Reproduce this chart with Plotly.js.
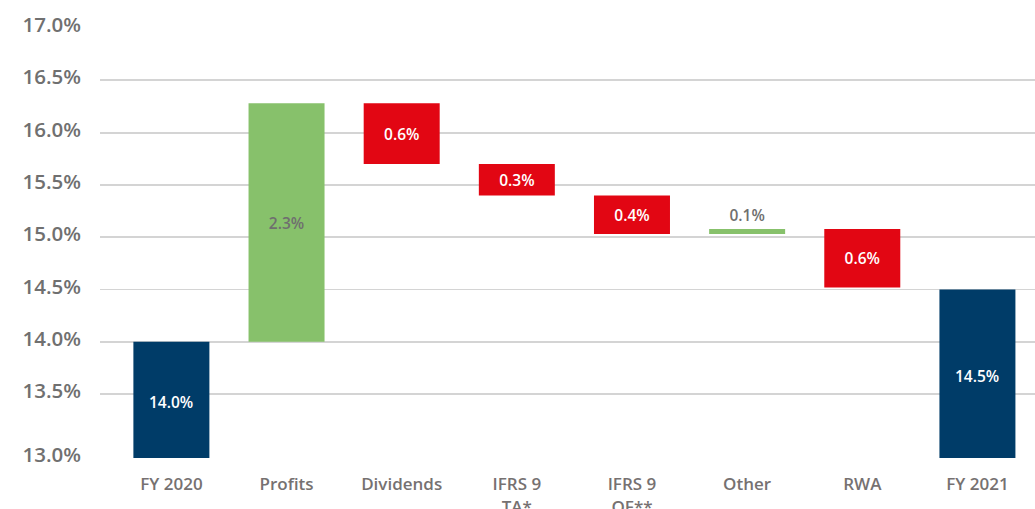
<!DOCTYPE html>
<html>
<head>
<meta charset="utf-8">
<script src="https://cdn.plot.ly/plotly-3.0.1.min.js"></script>
<style>html,body{margin:0;padding:0;background:#fff;}#chart{width:1035px;height:509px;}</style>
</head>
<body>
<div id="chart"></div>
<script>
// Data
const categories = ["FY 2020", "Profits", "Dividends", "IFRS 9<br>TA*", "IFRS 9<br>QF**", "Other", "RWA", "FY 2021"];
const measures = ["absolute", "relative", "relative", "relative", "relative", "relative", "relative", "absolute"];
const values = [14.0, 2.28, -0.58, -0.30, -0.37, 0.05, -0.56, 14.5];
const labels = ["14.0%", "2.3%", "0.6%", "0.3%", "0.4%", "0.1%", "0.6%", "14.5%"];
const yMin = 12.89, yMax = 17.0;
const yTickVals = [12.89, 13.5, 14.0, 14.5, 15.0, 15.5, 16.0, 16.5, 17.0];
const yTickText = ["13.0%", "13.5%", "14.0%", "14.5%", "15.0%", "15.5%", "16.0%", "16.5%", "17.0%"];

const FONT = "'Open Sans', 'Noto Sans', sans-serif";
const textPos = measures.map((m, i) => m === "absolute" ? "none" : (categories[i] === "Other" ? "outside" : "inside"));
const textCol = ["#ffffff", "#6f6f6f", "#ffffff", "#ffffff", "#ffffff", "#6f6f6f", "#ffffff", "#ffffff"];

const trace = {
  type: "waterfall",
  x: categories,
  y: values,
  measure: measures,
  text: labels,
  textposition: textPos,
  insidetextanchor: "middle",
  constraintext: "none",
  cliponaxis: false,
  textfont: {family: FONT, size: 15.5, color: textCol, weight: 600},
  outsidetextfont: {family: FONT, size: 15.5, color: "#6f6f6f", weight: 600},
  increasing: {marker: {color: "#87C16B"}},
  decreasing: {marker: {color: "#E20613"}},
  totals: {marker: {color: "#003C68"}},
  connector: {visible: false},
  width: 0.66,
  hoverinfo: "skip"
};

// labels for the total bars, centred on the visible part of the bar
const annotations = [];
measures.forEach((m, i) => {
  if (m === "absolute") {
    annotations.push({
      x: categories[i], y: (yMin + values[i]) / 2, xref: "x", yref: "y",
      text: labels[i], showarrow: false, yshift: -2,
      font: {family: FONT, size: 15.5, color: "#ffffff", weight: 600}
    });
  }
});

const layout = {
  width: 1035, height: 509,
  margin: {l: 100, r: 0, t: 28, b: 51},
  paper_bgcolor: "#ffffff", plot_bgcolor: "#ffffff",
  showlegend: false,
  font: {family: FONT, color: "#707070"},
  annotations: annotations,
  xaxis: {
    type: "category",
    range: [-0.62, 7.5],
    showgrid: false, zeroline: false, showline: false,
    ticks: "outside", ticklen: 11, tickcolor: "rgba(0,0,0,0)",
    tickfont: {family: FONT, size: 17, color: "#767171", weight: 600},
    fixedrange: true
  },
  yaxis: {
    range: [yMin, yMax],
    tickmode: "array",
    tickvals: yTickVals,
    ticktext: yTickText,
    showgrid: true, gridcolor: "#D4D4D4", gridwidth: 1.8,
    zeroline: false, showline: false,
    ticklabelstandoff: 18,
    ticklabelshift: -3,
    tickfont: {family: FONT, size: 20.5, color: "#707070", weight: 600},
    fixedrange: true
  }
};

Plotly.newPlot("chart", [trace], layout, {displayModeBar: false, staticPlot: true});
</script>
</body>
</html>
